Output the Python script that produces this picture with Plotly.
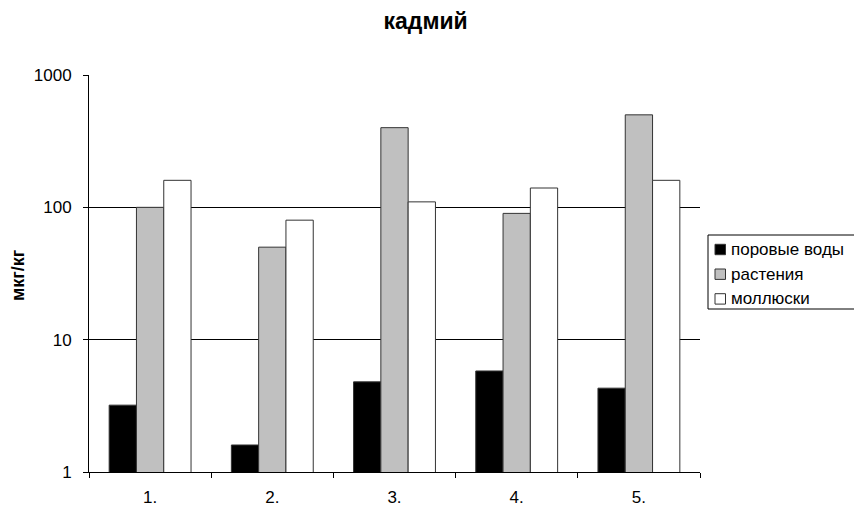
import plotly.graph_objects as go

categories = ["1.", "2.", "3.", "4.", "5."]
pore_water = [3.2, 1.6, 4.8, 5.8, 4.3]
plants = [100, 50, 400, 90, 500]
mollusks = [160, 80, 110, 140, 160]
series_names = ["поровые воды", "растения", "моллюски"]
series_colors = ["#000000", "#c0c0c0", "#ffffff"]
y_ticks = [1, 10, 100, 1000]

FONT = "Liberation Sans, Arial, sans-serif"
W, H = 854, 500
L, R, T, B = 81, 162, 67, 36
PW, PH = W - L - R, H - T - B


def px(fx):
    return (fx - L) / PW


def py(fy):
    return (H - B - fy) / PH


fig = go.Figure()
for name, vals, color in zip(series_names, [pore_water, plants, mollusks], series_colors):
    fig.add_trace(go.Bar(
        x=categories, y=vals, name=name,
        marker=dict(color=color, line=dict(color="#333333", width=1)),
    ))

# legend drawn as box + swatches + text
shapes = [dict(type="rect", xref="paper", yref="paper",
               x0=px(700), x1=px(849), y0=py(301), y1=py(227),
               line=dict(color="black", width=1), fillcolor="white", layer="above")]
annotations = []
row_y = [241.5, 266.2, 290.9]
for name, color, cy in zip(series_names, series_colors, row_y):
    shapes.append(dict(type="rect", xref="paper", yref="paper",
                       x0=px(707), x1=px(717.5), y0=py(cy + 5.2), y1=py(cy - 5.2),
                       line=dict(color="#333333", width=1), fillcolor=color, layer="above"))
    annotations.append(dict(text=name, showarrow=False, xref="paper", yref="paper",
                            x=px(720.5), y=py(cy), xanchor="left", yanchor="middle",
                            font=dict(size=17, color="black")))

annotations.append(dict(text="<b>мкг/кг</b>", textangle=-90, showarrow=False,
                        xref="paper", yref="paper",
                        x=px(10), y=py(267), xanchor="center", yanchor="middle",
                        font=dict(size=18, color="black")))

fig.update_layout(
    width=W, height=H,
    margin=dict(l=L, r=R, t=T, b=B, autoexpand=False),
    paper_bgcolor="white", plot_bgcolor="white",
    font=dict(family=FONT, size=17, color="black"),
    title=dict(text="<b>кадмий</b>", x=0.489, xref="container", xanchor="center",
               y=0.975, yref="container", yanchor="middle",
               font=dict(size=23, color="black")),
    barmode="group", bargap=0.33, bargroupgap=0,
    showlegend=False,
    xaxis=dict(type="category", showline=True, linecolor="black", linewidth=1,
               ticks="outside", tickson="boundaries", ticklen=5, tickcolor="black",
               showgrid=False, tickfont=dict(size=17), ticklabelstandoff=10,
               automargin=False),
    yaxis=dict(type="log", range=[0, 3], tickvals=y_ticks,
               ticktext=[str(v) for v in y_ticks],
               showline=True, linecolor="black", linewidth=1,
               ticks="outside", ticklen=5, tickcolor="black",
               showgrid=True, gridcolor="black", gridwidth=1,
               zeroline=False, tickfont=dict(size=17), ticklabelstandoff=8,
               automargin=False),
    shapes=shapes,
    annotations=annotations,
)

fig.write_html("out.html")
